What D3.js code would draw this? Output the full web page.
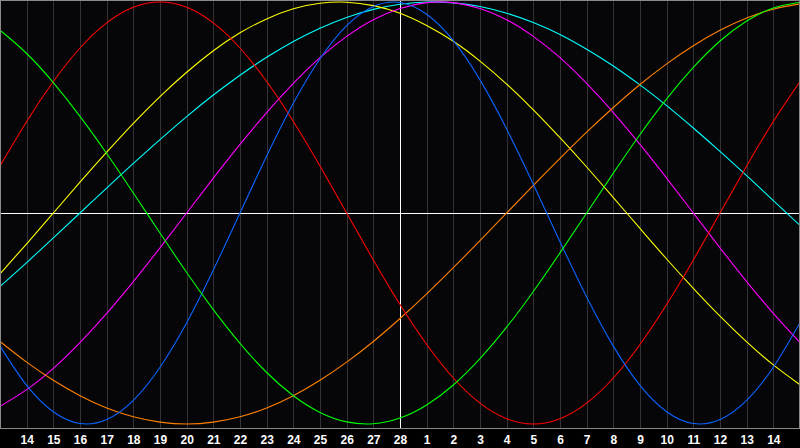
<!DOCTYPE html>
<html>
<head>
<meta charset="utf-8">
<script src="https://cdn.jsdelivr.net/npm/d3@7"></script>
<style>
html,body{margin:0;padding:0;background:#000;}
svg{display:block;}
</style>
</head>
<body>
<svg id="chart" width="800" height="448"></svg>
<script>
// Day numbers for each sampled day (31 days, today = 28 at index 15)
const days = [13,14,15,16,17,18,19,20,21,22,23,24,25,26,27,28,1,2,3,4,5,6,7,8,9,10,11,12,13,14,15];
const todayIndex = 15;

// Cycle values in percent (-100..100), one per day
const physical23 = [-63.1,-81.7,-94.2,-99.8,-97.9,-88.8,-73.1,-52.0,-27.0,0,27.0,52.0,73.1,88.8,97.9,99.8,94.2,81.7,63.1,39.8,13.6,-13.6,-39.8,-63.1,-81.7,-94.2,-99.8,-97.9,-88.8,-73.1,-52.0];
const emotional28 = [22.3,43.4,62.3,78.2,90.1,97.5,100,97.5,90.1,78.2,62.3,43.4,22.3,0,-22.3,-43.4,-62.3,-78.2,-90.1,-97.5,-100,-97.5,-90.1,-78.2,-62.3,-43.4,-22.3,0,22.3,43.4,62.3];
const intellectual33 = [86.6,75.6,61.8,45.8,28.2,9.5,-9.5,-28.2,-45.8,-61.8,-75.6,-86.6,-94.5,-99.0,-99.9,-97.2,-91.0,-81.5,-69.0,-54.1,-37.2,-18.9,0,18.9,37.2,54.1,69.0,81.5,91.0,97.2,99.9];
const intuitive38 = [-91.6,-83.7,-73.6,-61.4,-47.6,-32.5,-16.5,0,16.5,32.5,47.6,61.4,73.6,83.7,91.6,96.9,99.7,99.7,96.9,91.6,83.7,73.6,61.4,47.6,32.5,16.5,0,-16.5,-32.5,-47.6,-61.4];
const aesthetic43 = [-28.8,-14.6,0,14.6,28.8,42.5,55.2,66.7,76.9,85.4,92.0,96.8,99.4,99.9,98.3,94.7,88.9,81.4,72.0,61.1,48.9,35.7,21.8,7.3,-7.3,-21.8,-35.7,-48.9,-61.1,-72.0,-81.4];
const awareness48 = [-60.9,-70.7,-79.3,-86.6,-92.4,-96.6,-99.1,-100,-99.1,-96.6,-92.4,-86.6,-79.3,-70.7,-60.9,-50,-38.3,-25.9,-13.1,0,13.1,25.9,38.3,50,60.9,70.7,79.3,86.6,92.4,96.6,99.1];
const spiritual53 = [-34.8,-23.5,-11.8,0,11.8,23.5,34.8,45.7,55.9,65.3,73.8,81.3,87.6,92.7,96.5,98.9,100,99.6,97.9,94.7,90.3,84.6,77.6,69.7,60.7,50.9,40.3,29.2,17.7,5.9,-5.9];

const series = [
  {name:"Spiritual", values:spiritual53, color:"#00ffff"},
  {name:"Aesthetic", values:aesthetic43, color:"#ffff00"},
  {name:"Intuitive", values:intuitive38, color:"#ff00ff"},
  {name:"Awareness", values:awareness48, color:"#ff8000"},
  {name:"Emotional", values:emotional28, color:"#ff0000"},
  {name:"Physical", values:physical23, color:"#0a64ff"},
  {name:"Intellectual", values:intellectual33, color:"#00ff00"}
];

const W = 800, plotH = 428;
const svg = d3.select("#chart");

const x = d3.scaleLinear().domain([0, days.length - 1]).range([0, W]);
const y = d3.scaleLinear().domain([-100, 100]).range([424, 2]);

// background
svg.append("rect").attr("x",0).attr("y",0).attr("width",W).attr("height",448).attr("fill","#000");
svg.append("rect").attr("x",0).attr("y",0).attr("width",W).attr("height",plotH).attr("fill","#060609");

// vertical day grid
const gridIdx = d3.range(1, days.length - 1);
svg.append("g").selectAll("line").data(gridIdx.filter(i => i !== todayIndex)).join("line")
  .attr("x1", i => Math.round(x(i)) + 0.5).attr("x2", i => Math.round(x(i)) + 0.5)
  .attr("y1", 1).attr("y2", plotH)
  .attr("stroke", "#333336").attr("stroke-width", 1)
  .attr("shape-rendering","crispEdges");

// zero line and today line
svg.append("line")
  .attr("x1", 0).attr("x2", W).attr("y1", Math.round(y(0)) + 0.5).attr("y2", Math.round(y(0)) + 0.5)
  .attr("stroke", "#ffffff").attr("stroke-width", 1).attr("shape-rendering","crispEdges");
svg.append("line")
  .attr("x1", Math.round(x(todayIndex)) + 0.5).attr("x2", Math.round(x(todayIndex)) + 0.5)
  .attr("y1", 1).attr("y2", plotH)
  .attr("stroke", "#ffffff").attr("stroke-width", 1).attr("shape-rendering","crispEdges");

// curves
const line = d3.line().x((d, i) => x(i)).y(d => y(d)).curve(d3.curveNatural);
svg.append("g").selectAll("path").data(series).join("path")
  .attr("d", s => line(s.values))
  .attr("fill", "none")
  .attr("stroke", s => s.color)
  .attr("stroke-width", 1.1);

// border
svg.append("rect").attr("x",0.5).attr("y",0.5).attr("width",W-1).attr("height",plotH-0.5)
  .attr("fill","none").attr("stroke","#8a8a8a").attr("stroke-width",1).attr("shape-rendering","crispEdges");

// day labels
const xAxis = d3.axisBottom(x).tickValues(gridIdx).tickSize(0).tickFormat(i => days[i]);
const ax = svg.append("g").attr("transform", `translate(0,${plotH})`).call(xAxis);
ax.select(".domain").remove();
ax.selectAll("text")
  .attr("y", 16)
  .attr("dy", 0)
  .attr("fill", "#ffffff")
  .style("font-family", "'Liberation Sans', Arial, sans-serif")
  .style("font-weight", "bold")
  .style("font-size", "12px");
</script>
</body>
</html>
